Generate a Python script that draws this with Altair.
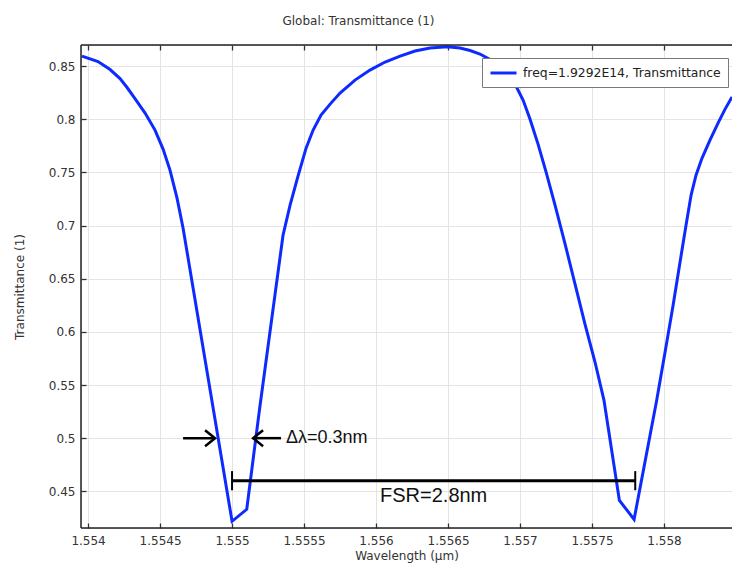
import altair as alt
import pandas as pd

# ---- data ----
wavelength = [
    1.553958, 1.554069, 1.554153, 1.554222, 1.554271, 1.554326, 1.554396, 1.554465,
    1.554521, 1.554569, 1.554618, 1.55466, 1.555, 1.555102, 1.55519, 1.555354,
    1.555403, 1.555458, 1.555514, 1.555563, 1.555618, 1.555681, 1.55575, 1.555854,
    1.555958, 1.556063, 1.556167, 1.556271, 1.556375, 1.556493, 1.556583, 1.556653,
    1.556722, 1.556792, 1.556861, 1.556917, 1.556972, 1.557021, 1.557069, 1.557125,
    1.557181, 1.557243, 1.557313, 1.557382, 1.557451, 1.557521, 1.557583, 1.55769,
    1.557792, 1.557949, 1.558007, 1.558063, 1.558111, 1.558153, 1.558188, 1.558222,
    1.558264, 1.558319, 1.558375, 1.558424, 1.558472,
]
transmittance = [
    0.8594, 0.8542, 0.8467, 0.8382, 0.8298, 0.8194, 0.8058, 0.7898,
    0.7719, 0.7521, 0.7258, 0.6975, 0.4218, 0.4331, 0.5262, 0.6909,
    0.7192, 0.7465, 0.7728, 0.7898, 0.8039, 0.8142, 0.8246, 0.8368,
    0.8462, 0.8538, 0.8594, 0.8641, 0.8669, 0.8682, 0.8669, 0.8646,
    0.8613, 0.8561, 0.8495, 0.8425, 0.8312, 0.818, 0.8001, 0.7766,
    0.7502, 0.7192, 0.6825, 0.6448, 0.6072, 0.5714, 0.5356, 0.4415,
    0.4236, 0.5356, 0.5808, 0.6251, 0.6655, 0.7004, 0.7286, 0.7474,
    0.7634, 0.7804, 0.7964, 0.8095, 0.8208,
]
series_name = "freq=1.9292E14, Transmittance"

x_ticks = [1.554, 1.5545, 1.555, 1.5555, 1.556, 1.5565, 1.557, 1.5575, 1.558]
y_ticks = [0.45, 0.5, 0.55, 0.6, 0.65, 0.7, 0.75, 0.8, 0.85]
x_domain = [1.553951, 1.558472]
y_domain = [0.4155, 0.8698]

# annotations (data units)
fsr_x = [1.555, 1.5578]
fsr_y = 0.46
fsr_cap = [0.451, 0.469]
fsr_label = "FSR=2.8nm"
fsr_label_pos = [1.5564, 0.446]

dl_left = [1.55466, 1.554882]    # shaft from, tip
dl_right = [1.555146, 1.55534]   # tip, shaft to
dl_y = 0.5
dl_label = "Δλ=0.3nm"
dl_label_x = 1.555375

# ---- style ----
W, H = 651, 483
LINE_COLOR = "#0d2bff"
TXT = "#333333"
FONT = "DejaVu Sans"

x_scale = alt.Scale(domain=x_domain, nice=False, zero=False)
y_scale = alt.Scale(domain=y_domain, nice=False, zero=False)

df = pd.DataFrame({"wl": wavelength, "t": transmittance, "series": [series_name] * len(wavelength)})

x_axis = alt.Axis(
    values=x_ticks, format="~g", orient="bottom", offset=-5, domain=False,
    tickSize=5, tickColor="#333", tickWidth=1.3, labelPadding=7, labelFlush=False,
    labelFont=FONT, labelFontSize=12, labelColor=TXT,
    title="Wavelength (µm)", titleFont=FONT, titleFontSize=12, titleFontWeight="normal",
    titleColor=TXT, titlePadding=4, grid=True, gridColor="#e4e4e4", gridWidth=1,
)
y_axis = alt.Axis(
    values=y_ticks, format="~g", orient="left", offset=-5, domain=False,
    tickSize=5, tickColor="#333", tickWidth=1.3, labelPadding=6, labelFlush=False,
    labelFont=FONT, labelFontSize=12, labelColor=TXT,
    title="Transmittance (1)", titleFont=FONT, titleFontSize=12, titleFontWeight="normal",
    titleColor=TXT, titlePadding=22, grid=True, gridColor="#e4e4e4", gridWidth=1,
)
top_axis = alt.Axis(
    values=x_ticks, orient="top", offset=-5, domain=False, tickSize=5, tickColor="#333",
    tickWidth=1.3, labels=False, grid=False, title=None,
)

line = alt.Chart(df).mark_line(strokeWidth=3, clip=True).encode(
    x=alt.X("wl:Q", scale=x_scale, axis=x_axis),
    y=alt.Y("t:Q", scale=y_scale, axis=y_axis),
    color=alt.Color(
        "series:N",
        scale=alt.Scale(domain=[series_name], range=[LINE_COLOR]),
        legend=alt.Legend(
            orient="none", legendX=401, legendY=13, title=None,
            symbolType="M-1,0H3", symbolSize=169, symbolStrokeWidth=3,
            labelFont=FONT, labelFontSize=12.4, labelColor="#222", labelOffset=18,
            labelLimit=400, padding=7, strokeColor="#7a7a7a", fillColor="white",
            cornerRadius=0,
        ),
    ),
)

top_ticks = alt.Chart(pd.DataFrame({"tick": x_ticks})).mark_point(opacity=0).encode(
    x=alt.X("tick:Q", scale=x_scale, axis=top_axis),
    y=alt.value(0),
)

# FSR bar
fsr_df = pd.DataFrame({"x0": [fsr_x[0]], "x1": [fsr_x[1]], "y": [fsr_y]})
fsr_line = alt.Chart(fsr_df).mark_rule(strokeWidth=3, color="black").encode(
    x=alt.X("x0:Q", scale=x_scale, axis=None), x2="x1:Q",
    y=alt.Y("y:Q", scale=y_scale, axis=None),
)
cap_df = pd.DataFrame({"x": fsr_x, "y0": [fsr_cap[0]] * 2, "y1": [fsr_cap[1]] * 2})
fsr_caps = alt.Chart(cap_df).mark_rule(strokeWidth=2, color="black").encode(
    x=alt.X("x:Q", scale=x_scale, axis=None),
    y=alt.Y("y0:Q", scale=y_scale, axis=None), y2="y1:Q",
)
fsr_text = alt.Chart(pd.DataFrame({"x": [fsr_label_pos[0]], "y": [fsr_label_pos[1]], "s": [fsr_label]})).mark_text(
    align="center", baseline="middle", font="Liberation Sans", fontSize=20, color="#111"
).encode(
    x=alt.X("x:Q", scale=x_scale, axis=None), y=alt.Y("y:Q", scale=y_scale, axis=None), text="s:N"
)

# delta-lambda arrows
shaft_df = pd.DataFrame({"x0": [dl_left[0], dl_right[0]], "x1": [dl_left[1], dl_right[1]], "y": [dl_y, dl_y]})
shafts = alt.Chart(shaft_df).mark_rule(strokeWidth=2.5, color="black").encode(
    x=alt.X("x0:Q", scale=x_scale, axis=None), x2="x1:Q",
    y=alt.Y("y:Q", scale=y_scale, axis=None),
)
head_r = alt.Chart(pd.DataFrame({"x": [dl_left[1]], "y": [dl_y]})).mark_point(
    shape="M-1.25,-1L0,0L-1.25,1", filled=False, size=256, strokeWidth=2.5, color="black", opacity=1
).encode(x=alt.X("x:Q", scale=x_scale, axis=None), y=alt.Y("y:Q", scale=y_scale, axis=None))
head_l = alt.Chart(pd.DataFrame({"x": [dl_right[0]], "y": [dl_y]})).mark_point(
    shape="M1.25,-1L0,0L1.25,1", filled=False, size=256, strokeWidth=2.5, color="black", opacity=1
).encode(x=alt.X("x:Q", scale=x_scale, axis=None), y=alt.Y("y:Q", scale=y_scale, axis=None))
dl_text = alt.Chart(pd.DataFrame({"x": [dl_label_x], "y": [dl_y], "s": [dl_label]})).mark_text(
    align="left", baseline="middle", font="Liberation Sans", fontSize=18, color="#111"
).encode(
    x=alt.X("x:Q", scale=x_scale, axis=None), y=alt.Y("y:Q", scale=y_scale, axis=None), text="s:N"
)

# plot frame (left, top, bottom)
one = pd.DataFrame({"a": [0]})
frame_top = alt.Chart(one).mark_rule(color="#222", strokeWidth=1.5).encode(
    x=alt.value(0), x2=alt.value(W), y=alt.value(0))
frame_bottom = alt.Chart(one).mark_rule(color="#222", strokeWidth=1.5).encode(
    x=alt.value(0), x2=alt.value(W), y=alt.value(H))
frame_left = alt.Chart(one).mark_rule(color="#222", strokeWidth=1.5).encode(
    x=alt.value(0), y=alt.value(0), y2=alt.value(H))

chart = alt.layer(
    top_ticks, line, fsr_line, fsr_caps, fsr_text, shafts, head_r, head_l, dl_text,
    frame_top, frame_bottom, frame_left,
).resolve_axis(x="independent", y="independent").properties(
    width=W, height=H,
    title=alt.TitleParams(
        "Global: Transmittance (1)", font=FONT, fontSize=12, fontWeight="normal",
        color=TXT, dx=-48, offset=14, anchor="middle",
    ),
    autosize=alt.AutoSizeParams(type="none"),
    padding={"left": 81, "top": 45, "right": 0, "bottom": 39},
).configure_view(stroke=None).configure(background="white")

chart.save("out.html", embed_options={"renderer": "svg", "actions": False})
